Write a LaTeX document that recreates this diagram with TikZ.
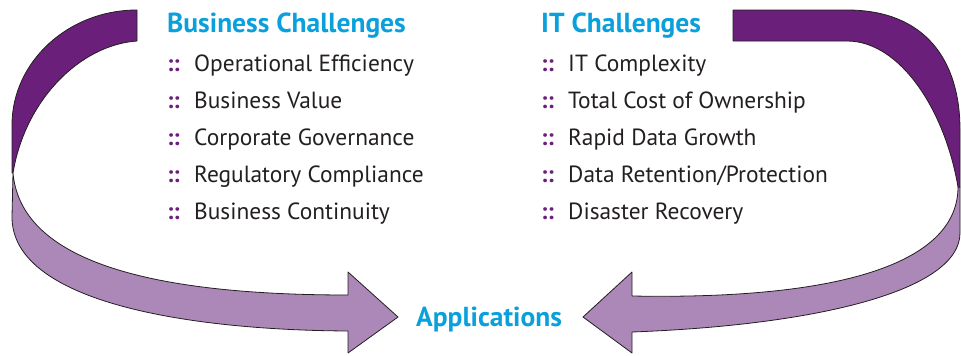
\documentclass[tikz,border=0pt]{standalone}
\usepackage{fontspec}
\setmainfont{PT Sans}
\definecolor{darkplum}{HTML}{6A1F7A}
\definecolor{lightplum}{HTML}{AB88B8}
\definecolor{headblue}{HTML}{0AA0DC}
\definecolor{textgray}{HTML}{231F20}
\tikzset{
    head/.style={anchor=base west, inner sep=0pt, text=headblue, font=\fontsize{27.5}{30}\selectfont\bfseries},
    item/.style={anchor=base west, inner sep=0pt, text=textgray, font=\fontsize{23.4}{26}\selectfont},
    dots/.style={anchor=base west, inner sep=0pt, text=darkplum, font=\fontsize{23.4}{26}\selectfont\bfseries},
    band/.style={draw=textgray, line width=0.8pt, line join=round}
}
\begin{document}
\begin{tikzpicture}[x=1pt, y=-1pt]
    \useasboundingbox (0, 0) rectangle (961, 356);
    % left arrow
    \fill[lightplum, band] (13, 173) .. controls (20, 250) and (120, 295) .. (348, 295) -- (348, 272) -- (398, 317) -- (348, 353) -- (348, 331) .. controls (180, 330) and (12, 300) .. (12, 217) -- cycle;
    \fill[darkplum, band] (137, 10) -- (137, 41) .. controls (80, 45) and (25, 100) .. (13, 173) -- (12, 173) -- (12, 125) .. controls (12, 62) and (68, 10) .. (137, 10) -- cycle;
    % right arrow
    \fill[lightplum, band] (958, 187) .. controls (958, 260) and (850, 300) .. (632, 296) -- (632, 272) -- (583, 317) -- (632, 353) -- (632, 332) .. controls (820, 325) and (960, 290) .. (960, 233) -- (960, 187) -- cycle;
    \fill[darkplum, band] (733, 10) -- (847, 10) .. controls (925, 10) and (960, 60) .. (960, 130) -- (960, 187) -- (958, 187) .. controls (945, 110) and (900, 41) .. (847, 41) -- (733, 41) -- cycle;
    % business column
    \node[head] (BC) at (167, 32) {Business Challenges};
    \node[dots] (BCd1) at (167, 71) {::};
    \node[item] (BC1) at (194, 71) {Operational Efficiency};
    \node[dots] (BCd2) at (167, 108) {::};
    \node[item] (BC2) at (194, 108) {Business Value};
    \node[dots] (BCd3) at (167, 145) {::};
    \node[item] (BC3) at (194, 145) {Corporate Governance};
    \node[dots] (BCd4) at (167, 182) {::};
    \node[item] (BC4) at (194, 182) {Regulatory Compliance};
    \node[dots] (BCd5) at (167, 219) {::};
    \node[item] (BC5) at (194, 219) {Business Continuity};
    % IT column
    \node[head] (IT) at (541, 32) {IT Challenges};
    \node[dots] (ITd1) at (541, 71) {::};
    \node[item] (IT1) at (568, 71) {IT Complexity};
    \node[dots] (ITd2) at (541, 108) {::};
    \node[item] (IT2) at (568, 108) {Total Cost of Ownership};
    \node[dots] (ITd3) at (541, 145) {::};
    \node[item] (IT3) at (568, 145) {Rapid Data Growth};
    \node[dots] (ITd4) at (541, 182) {::};
    \node[item] (IT4) at (568, 182) {Data Retention/Protection};
    \node[dots] (ITd5) at (541, 219) {::};
    \node[item] (IT5) at (568, 219) {Disaster Recovery};
    % target
    \node[head] (APP) at (416, 326) {Applications};
\end{tikzpicture}
\end{document}
